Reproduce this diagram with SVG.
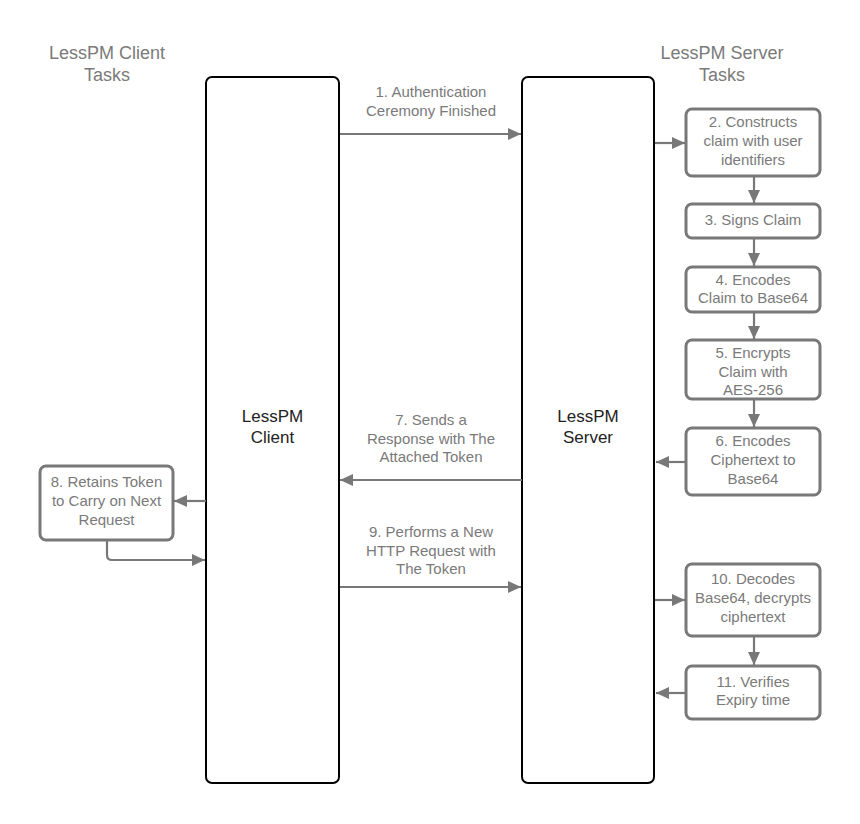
<svg xmlns="http://www.w3.org/2000/svg" width="860" height="824" viewBox="0 0 860 824">
<style>
.bg{fill:#fff}
.lane{fill:#fff;stroke:#000;stroke-width:2}
.box{fill:#fff;stroke:#787878;stroke-width:3}
.t{font-family:"Liberation Sans",Arial,sans-serif;font-size:15px;fill:#7a7a7a;text-anchor:middle}
.h{font-family:"Liberation Sans",Arial,sans-serif;font-size:18px;fill:#7a7a7a;text-anchor:middle}
.ln{font-family:"Liberation Sans",Arial,sans-serif;font-size:17px;fill:#222;text-anchor:middle}
.c{fill:none;stroke:#787878;stroke-width:2.2}
</style>
<defs>
<marker id="a" markerUnits="userSpaceOnUse" markerWidth="14" markerHeight="12" refX="13" refY="6" orient="auto">
<path d="M0,0 L13,6 L0,12 z" fill="#787878"/>
</marker>
</defs>
<rect class="bg" width="860" height="824"/>
<g id="headings">
<text class="h" x="107" y="59">LessPM Client</text>
<text class="h" x="107" y="81">Tasks</text>
<text class="h" x="722" y="59">LessPM Server</text>
<text class="h" x="722" y="81">Tasks</text>
</g>
<g id="client">
<rect class="lane" x="206" y="77" width="133" height="706" rx="6"/>
<text class="ln" x="272.5" y="422">LessPM</text>
<text class="ln" x="272.5" y="443">Client</text>
</g>
<g id="server">
<rect class="lane" x="522" y="77" width="132" height="706" rx="6"/>
<text class="ln" x="588" y="422">LessPM</text>
<text class="ln" x="588" y="443">Server</text>
</g>
<g id="n2">
<rect class="box" x="686" y="109" width="134" height="67" rx="6"/>
<text class="t" x="753" y="127">2. Constructs</text>
<text class="t" x="753" y="146">claim with user</text>
<text class="t" x="753" y="165">identifiers</text>
</g>
<g id="n3">
<rect class="box" x="686" y="204" width="134" height="34" rx="6"/>
<text class="t" x="753" y="225">3. Signs Claim</text>
</g>
<g id="n4">
<rect class="box" x="686" y="267" width="134" height="45" rx="6"/>
<text class="t" x="753" y="285">4. Encodes</text>
<text class="t" x="753" y="303">Claim to Base64</text>
</g>
<g id="n5">
<rect class="box" x="686" y="340" width="134" height="59" rx="6"/>
<text class="t" x="753" y="358">5. Encrypts</text>
<text class="t" x="753" y="377">Claim with</text>
<text class="t" x="753" y="395">AES-256</text>
</g>
<g id="n6">
<rect class="box" x="686" y="428" width="134" height="67" rx="6"/>
<text class="t" x="753" y="446">6. Encodes</text>
<text class="t" x="753" y="465">Ciphertext to</text>
<text class="t" x="753" y="484">Base64</text>
</g>
<g id="n10">
<rect class="box" x="686" y="564" width="134" height="72" rx="6"/>
<text class="t" x="753" y="584">10. Decodes</text>
<text class="t" x="753" y="603">Base64, decrypts</text>
<text class="t" x="753" y="622">ciphertext</text>
</g>
<g id="n11">
<rect class="box" x="686" y="666" width="134" height="53" rx="6"/>
<text class="t" x="753" y="687">11. Verifies</text>
<text class="t" x="753" y="705">Expiry time</text>
</g>
<g id="n8">
<rect class="box" x="40" y="466" width="133" height="74" rx="6"/>
<text class="t" x="106.5" y="487">8. Retains Token</text>
<text class="t" x="106.5" y="506">to Carry on Next</text>
<text class="t" x="106.5" y="525">Request</text>
</g>
<g id="labels">
<text class="t" x="431" y="97">1. Authentication</text>
<text class="t" x="431" y="116">Ceremony Finished</text>
<text class="t" x="431" y="425">7. Sends a</text>
<text class="t" x="431" y="444">Response with The</text>
<text class="t" x="431" y="462">Attached Token</text>
<text class="t" x="431" y="537">9. Performs a New</text>
<text class="t" x="431" y="556">HTTP Request with</text>
<text class="t" x="431" y="574">The Token</text>
</g>
<g id="connectors">
<path class="c" d="M340,134 H521" marker-end="url(#a)"/>
<path class="c" d="M655,143 H685" marker-end="url(#a)"/>
<path class="c" d="M754,177 V203" marker-end="url(#a)"/>
<path class="c" d="M754,239 V266" marker-end="url(#a)"/>
<path class="c" d="M754,313 V339" marker-end="url(#a)"/>
<path class="c" d="M754,400 V427" marker-end="url(#a)"/>
<path class="c" d="M685,462 H656" marker-end="url(#a)"/>
<path class="c" d="M522,480 H340" marker-end="url(#a)"/>
<path class="c" d="M206,501 H174" marker-end="url(#a)"/>
<path class="c" d="M107,541 V555 Q107,560 112,560 H205" marker-end="url(#a)"/>
<path class="c" d="M340,587 H521" marker-end="url(#a)"/>
<path class="c" d="M655,600 H685" marker-end="url(#a)"/>
<path class="c" d="M754,637 V665" marker-end="url(#a)"/>
<path class="c" d="M685,693 H656" marker-end="url(#a)"/>
</g>
</svg>
